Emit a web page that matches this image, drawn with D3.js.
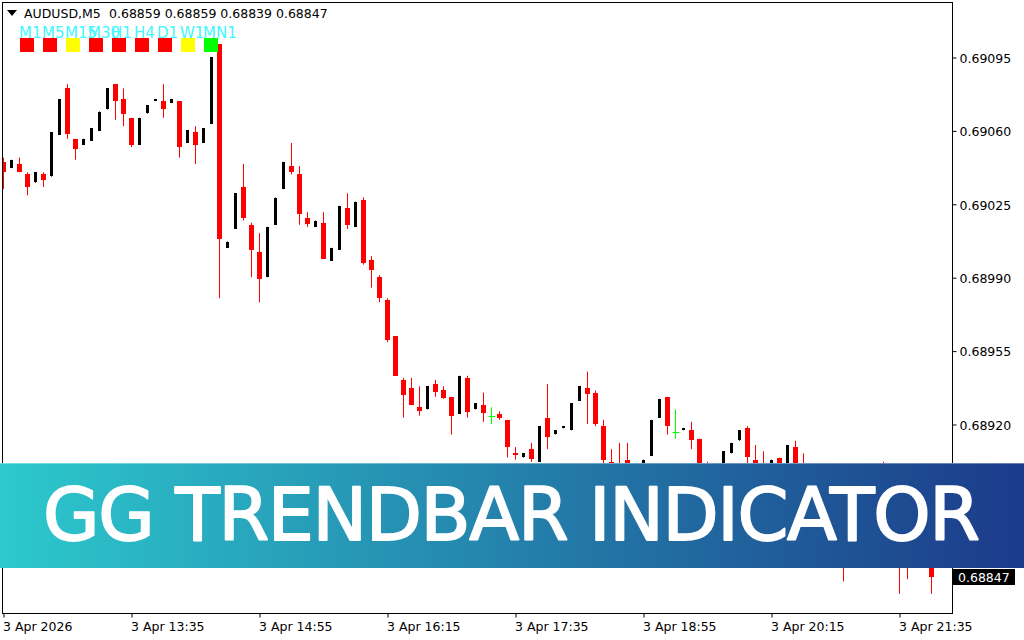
<!DOCTYPE html>
<html>
<head>
<meta charset="utf-8">
<script src="https://cdn.jsdelivr.net/npm/d3@7/dist/d3.min.js"></script>
<style>
    body { margin: 0; background: #fff; overflow: hidden; }
    svg { display: block; }
    text { font-family: "DejaVu Sans", sans-serif; }
</style>
</head>
<body>
<div id="chart"></div>
<script>
// AUDUSD M5 bars, 3 Apr 12:15 -> 21:55
const opens = [
    0.69045, 0.69042, 0.69044, 0.69039, 0.69035, 0.69039, 0.69038, 0.69058, 0.69080, 0.69056,
    0.69053, 0.69055, 0.69060, 0.69070, 0.69082, 0.69075, 0.69066, 0.69053, 0.69068, 0.69074,
    0.69074, 0.69073, 0.69074, 0.69054, 0.69059, 0.69054, 0.69063, 0.69101, 0.69004, 0.69013,
    0.69033, 0.69015, 0.69002, 0.68990, 0.69015, 0.69032, 0.69043, 0.69039, 0.69018, 0.69014,
    0.69016, 0.68998, 0.69003, 0.69023, 0.69014, 0.69027, 0.68998, 0.68990, 0.68979, 0.68962,
    0.68941, 0.68937, 0.68928, 0.68927, 0.68939, 0.68936, 0.68933, 0.68925, 0.68942, 0.68927,
    0.68929, 0.68924, 0.68925, 0.68922, 0.68906, 0.68904, 0.68908, 0.68902, 0.68923, 0.68915,
    0.68918, 0.68917, 0.68931, 0.68937, 0.68935, 0.68919, 0.68902, 0.68898, 0.68903, 0.68890,
    0.68886, 0.68905, 0.68923, 0.68933, 0.68916, 0.68917, 0.68917, 0.68913, 0.68892, 0.68882,
    0.68888, 0.68906, 0.68912, 0.68918, 0.68903, 0.68898, 0.68892, 0.68904, 0.68893, 0.68909,
    0.68898, 0.68888, 0.68884, 0.68890, 0.68879, 0.68872, 0.68860, 0.68865, 0.68870, 0.68866,
    0.68885, 0.68870, 0.68862, 0.68864, 0.68856, 0.68855, 0.68859
];
const highs = [
    0.69047, 0.69046, 0.69047, 0.69040, 0.69040, 0.69040, 0.69059, 0.69075, 0.69082, 0.69056,
    0.69056, 0.69061, 0.69069, 0.69080, 0.69082, 0.69080, 0.69066, 0.69066, 0.69072, 0.69075,
    0.69082, 0.69075, 0.69074, 0.69060, 0.69062, 0.69061, 0.69095, 0.69101, 0.69007, 0.69030,
    0.69044, 0.69016, 0.69011, 0.69014, 0.69028, 0.69045, 0.69054, 0.69043, 0.69021, 0.69017,
    0.69021, 0.69004, 0.69024, 0.69030, 0.69026, 0.69028, 0.69000, 0.68991, 0.68980, 0.68962,
    0.68942, 0.68942, 0.68938, 0.68938, 0.68941, 0.68938, 0.68933, 0.68943, 0.68943, 0.68930,
    0.68935, 0.68928, 0.68926, 0.68922, 0.68909, 0.68906, 0.68911, 0.68919, 0.68939, 0.68917,
    0.68919, 0.68930, 0.68938, 0.68945, 0.68936, 0.68922, 0.68908, 0.68911, 0.68911, 0.68898,
    0.68903, 0.68922, 0.68932, 0.68933, 0.68927, 0.68918, 0.68921, 0.68913, 0.68902, 0.68890,
    0.68907, 0.68911, 0.68917, 0.68919, 0.68910, 0.68907, 0.68903, 0.68904, 0.68910, 0.68912,
    0.68906, 0.68895, 0.68893, 0.68896, 0.68886, 0.68878, 0.68868, 0.68874, 0.68880, 0.68884,
    0.68902, 0.68876, 0.68870, 0.68868, 0.68864, 0.68863, 0.68859
];
const lows = [
    0.69032, 0.69042, 0.69040, 0.69029, 0.69035, 0.69033, 0.69038, 0.69058, 0.69056, 0.69046,
    0.69053, 0.69055, 0.69060, 0.69070, 0.69065, 0.69062, 0.69052, 0.69053, 0.69068, 0.69074,
    0.69066, 0.69073, 0.69047, 0.69054, 0.69044, 0.69054, 0.69063, 0.68980, 0.69004, 0.69013,
    0.69017, 0.68990, 0.68978, 0.68990, 0.69015, 0.69032, 0.69039, 0.69015, 0.69014, 0.69014,
    0.68999, 0.68998, 0.69003, 0.69013, 0.69014, 0.68996, 0.68985, 0.68978, 0.68959, 0.68943,
    0.68923, 0.68929, 0.68924, 0.68927, 0.68933, 0.68932, 0.68915, 0.68925, 0.68923, 0.68927,
    0.68921, 0.68920, 0.68922, 0.68904, 0.68903, 0.68904, 0.68902, 0.68902, 0.68908, 0.68915,
    0.68918, 0.68917, 0.68931, 0.68920, 0.68919, 0.68900, 0.68888, 0.68880, 0.68884, 0.68878,
    0.68880, 0.68905, 0.68923, 0.68915, 0.68913, 0.68917, 0.68908, 0.68885, 0.68875, 0.68870,
    0.68884, 0.68906, 0.68912, 0.68901, 0.68888, 0.68885, 0.68888, 0.68890, 0.68890, 0.68890,
    0.68882, 0.68880, 0.68878, 0.68876, 0.68868, 0.68845, 0.68853, 0.68858, 0.68862, 0.68860,
    0.68862, 0.68856, 0.68839, 0.68846, 0.68852, 0.68853, 0.68839
];
const closes = [
    0.69040, 0.69046, 0.69040, 0.69033, 0.69040, 0.69036, 0.69059, 0.69075, 0.69058, 0.69051,
    0.69056, 0.69061, 0.69069, 0.69080, 0.69074, 0.69068, 0.69053, 0.69066, 0.69072, 0.69075,
    0.69070, 0.69075, 0.69052, 0.69060, 0.69053, 0.69061, 0.69095, 0.69008, 0.69007, 0.69030,
    0.69018, 0.69003, 0.68989, 0.69014, 0.69028, 0.69045, 0.69040, 0.69020, 0.69015, 0.69017,
    0.68999, 0.69004, 0.69024, 0.69015, 0.69026, 0.68997, 0.68993, 0.68980, 0.68960, 0.68943,
    0.68934, 0.68929, 0.68926, 0.68938, 0.68935, 0.68932, 0.68924, 0.68943, 0.68926, 0.68930,
    0.68925, 0.68924, 0.68923, 0.68909, 0.68905, 0.68906, 0.68903, 0.68919, 0.68914, 0.68917,
    0.68919, 0.68930, 0.68938, 0.68934, 0.68920, 0.68903, 0.68893, 0.68885, 0.68890, 0.68882,
    0.68903, 0.68922, 0.68932, 0.68919, 0.68916, 0.68918, 0.68912, 0.68890, 0.68880, 0.68878,
    0.68907, 0.68911, 0.68917, 0.68904, 0.68893, 0.68890, 0.68903, 0.68894, 0.68910, 0.68895,
    0.68888, 0.68884, 0.68890, 0.68879, 0.68872, 0.68860, 0.68865, 0.68870, 0.68866, 0.68878,
    0.68870, 0.68860, 0.68855, 0.68856, 0.68860, 0.68859, 0.68847
];

const symbol = "AUDUSD,M5";
const headerValues = "0.68859 0.68859 0.68839 0.68847";
const xTickBars = [0, 16, 32, 48, 64, 80, 96, 112];
const xTickLabels = ["3 Apr 2026", "3 Apr 13:35", "3 Apr 14:55", "3 Apr 16:15",
                     "3 Apr 17:35", "3 Apr 18:55", "3 Apr 20:15", "3 Apr 21:35"];
const yTicks = [0.69095, 0.69060, 0.69025, 0.68990, 0.68955, 0.68920];
const tfLabels = ["M1", "M5", "M15", "M30", "H1", "H4", "D1", "W1", "MN1"];
const tfColors = ["#ff0000", "#ff0000", "#ffff00", "#ff0000", "#ff0000", "#ff0000", "#ff0000", "#ffff00", "#00ff00"];
const lastPrice = 0.68847;
const bannerText = "GG TRENDBAR INDICATOR";

const bars = opens.map((o, i) => ({i: i, o: o, h: highs[i], l: lows[i], c: closes[i]}));

const width = 1024, height = 640;
const frame = {left: 2.5, right: 952.5, top: 2.5, bottom: 613.5};

const svg = d3.select("#chart")
    .append("svg")
    .attr("width", width)
    .attr("height", height);

const x = d3.scaleLinear()
    .domain([0, bars.length - 1])
    .range([3.5, 3.5 + 8 * (bars.length - 1)]);

const y = d3.scaleLinear()
    .domain([0.68920, 0.69095])
    .range([424, 57]);

svg.append("clipPath")
    .attr("id", "plot-clip")
    .append("rect")
    .attr("x", 3).attr("y", 3)
    .attr("width", 949).attr("height", 610);

const plot = svg.append("g").attr("clip-path", "url(#plot-clip)");

const colorOf = d => d.c > d.o ? "#000" : (d.c < d.o ? "#ff0000" : "#00ff00");

// wicks
plot.selectAll(".wick")
    .data(bars)
    .enter().append("line")
    .attr("class", "wick")
    .attr("x1", d => x(d.i)).attr("x2", d => x(d.i))
    .attr("y1", d => y(d.h)).attr("y2", d => y(d.l))
    .attr("stroke", colorOf)
    .attr("stroke-width", 1);

// bodies (bull bars are drawn narrower, like the terminal does)
plot.selectAll(".body")
    .data(bars.filter(d => d.c !== d.o))
    .enter().append("rect")
    .attr("class", "body")
    .attr("x", d => x(d.i) - (d.c > d.o ? 1.5 : 2.5))
    .attr("width", d => d.c > d.o ? 3 : 5)
    .attr("y", d => Math.round(y(Math.max(d.o, d.c))))
    .attr("height", d => Math.max(1, Math.round(Math.abs(y(d.o) - y(d.c)))))
    .attr("fill", colorOf);

// doji crosses
plot.selectAll(".doji")
    .data(bars.filter(d => d.c === d.o))
    .enter().append("line")
    .attr("class", "doji")
    .attr("x1", d => x(d.i) - 3).attr("x2", d => x(d.i) + 4)
    .attr("y1", d => Math.round(y(d.o)) + 0.5).attr("y2", d => Math.round(y(d.o)) + 0.5)
    .attr("stroke", "#00ff00");

// frame
svg.append("rect")
    .attr("x", frame.left).attr("y", frame.top)
    .attr("width", frame.right - frame.left)
    .attr("height", frame.bottom - frame.top)
    .attr("fill", "none")
    .attr("stroke", "#000");

// price axis
const yAxis = svg.append("g")
    .attr("transform", `translate(${frame.right},0.5)`)
    .call(d3.axisRight(y).tickValues(yTicks).tickSize(4).tickPadding(3)
        .tickFormat(d3.format(".5f")));
yAxis.select(".domain").remove();
yAxis.selectAll("text")
    .attr("font-family", "DejaVu Sans, sans-serif")
    .attr("font-size", "12.5px")
    .attr("fill", "#000")
    .attr("dy", "0.38em");

// time axis
const xAxis = svg.append("g")
    .attr("transform", `translate(0,${frame.bottom})`)
    .call(d3.axisBottom(x).tickValues(xTickBars).tickSize(4).tickPadding(5)
        .tickFormat((d, i) => xTickLabels[i]));
xAxis.select(".domain").remove();
xAxis.selectAll("text")
    .attr("font-family", "DejaVu Sans, sans-serif")
    .attr("font-size", "12.5px")
    .attr("fill", "#000")
    .attr("text-anchor", "start")
    .attr("x", -1);

// last price label
svg.append("rect")
    .attr("x", 953).attr("y", Math.round(y(lastPrice)) - 8)
    .attr("width", 62).attr("height", 16)
    .attr("fill", "#000");
svg.append("text")
    .attr("x", 958).attr("y", Math.round(y(lastPrice)) + 5)
    .attr("font-size", "12.5px")
    .attr("fill", "#fff")
    .text(d3.format(".5f")(lastPrice));

// header
svg.append("path")
    .attr("d", "M7,10 L17,10 L12,16 Z")
    .attr("fill", "#000");
svg.append("text")
    .attr("x", 24).attr("y", 18)
    .attr("font-size", "12.5px")
    .text(symbol);
svg.append("text")
    .attr("x", 109).attr("y", 18)
    .attr("font-size", "12.5px")
    .text(headerValues);

// trend bar panel
svg.selectAll(".tf-label")
    .data(tfLabels)
    .enter().append("text")
    .attr("class", "tf-label")
    .attr("x", (d, i) => 19 + 23 * i)
    .attr("y", 38)
    .attr("font-family", "Liberation Sans, Arial, sans-serif")
    .attr("font-size", "15px")
    .attr("fill", "#3ff8ff")
    .text(d => d);

svg.selectAll(".tf-box")
    .data(tfColors)
    .enter().append("rect")
    .attr("class", "tf-box")
    .attr("x", (d, i) => 20 + 23 * i)
    .attr("y", 38)
    .attr("width", 14).attr("height", 14)
    .attr("fill", d => d);

// banner
const grad = svg.append("defs").append("linearGradient")
    .attr("id", "banner-grad")
    .attr("x1", "0%").attr("x2", "100%");
grad.append("stop").attr("offset", "0%").attr("stop-color", "#2cc9cd");
grad.append("stop").attr("offset", "100%").attr("stop-color", "#1c3a8a");

svg.append("rect")
    .attr("x", 0).attr("y", 463)
    .attr("width", width).attr("height", 105)
    .attr("fill", "url(#banner-grad)");
svg.append("line")
    .attr("x1", 0).attr("x2", width)
    .attr("y1", 463.5).attr("y2", 463.5)
    .attr("stroke", "rgba(255,255,255,0.35)");

svg.append("text")
    .attr("x", 511.5).attr("y", 540)
    .attr("text-anchor", "middle")
    .attr("font-family", "Open Sans, sans-serif")
    .attr("font-size", "73px")
    .attr("fill", "#fff")
    .attr("stroke", "#fff")
    .attr("stroke-width", 1.8)
    .attr("stroke-linejoin", "round")
    .attr("textLength", 937)
    .attr("lengthAdjust", "spacing")
    .text(bannerText);
</script>
</body>
</html>
